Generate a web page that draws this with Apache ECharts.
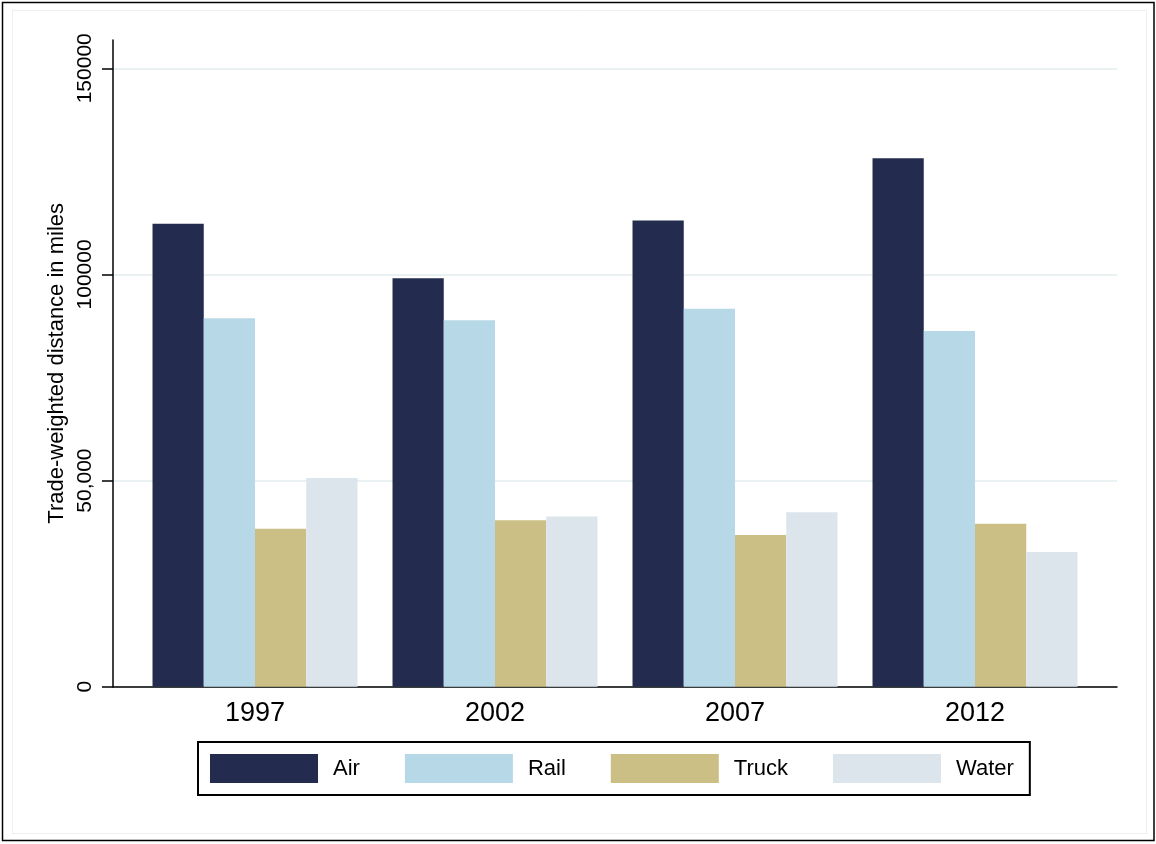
<!DOCTYPE html>
<html>
<head>
<meta charset="utf-8">
<script src="https://cdn.jsdelivr.net/npm/echarts@6/dist/echarts.min.js"></script>
<style>
html,body{margin:0;padding:0;background:#fff;}
#chart{width:1156px;height:844px;}
</style>
</head>
<body>
<div id="chart"></div>
<script>
const years = ['1997', '2002', '2007', '2012'];
const airValues = [112300, 99100, 113100, 128200];
const railValues = [89400, 88900, 91700, 86300];
const truckValues = [38300, 40400, 36800, 39500];
const waterValues = [50600, 41300, 42300, 32700];
const seriesNames = ['Air', 'Rail', 'Truck', 'Water'];
const yTickValues = [0, 50000, 100000, 150000];
const yTickLabels = ['0', '50,000', '100000', '150000'];
const yTitle = 'Trade-weighted distance in miles';

const colors = ['#232c4e', '#b7d8e7', '#cbbf85', '#dce5eb'];
const FONT = "'Liberation Sans', Arial, Helvetica, sans-serif";

const chart = echarts.init(document.getElementById('chart'), null, {renderer: 'canvas'});

const seriesData = [airValues, railValues, truckValues, waterValues];

const option = {
  animation: false,
  backgroundColor: '#ffffff',
  textStyle: {fontFamily: FONT},
  graphic: [
    {type: 'rect', shape: {x: 2.5, y: 2.5, width: 1151.5, height: 838}, style: {fill: 'none', stroke: '#000', lineWidth: 1.5}, silent: true},
    {type: 'rect', shape: {x: 12.5, y: 10.5, width: 1134, height: 823}, style: {fill: 'none', stroke: '#efefef', lineWidth: 1}, silent: true}
  ],
  grid: [
    {left: 113, right: 39, top: 40, bottom: 157.3},
    {left: 113, right: 39, top: 68.3, bottom: 157.3},
    {left: 135, right: 61, top: 68.3, bottom: 157.3}
  ],
  xAxis: [
    {gridIndex: 0, type: 'value', min: 0, max: 1, axisLine: {show: true, onZero: false, lineStyle: {color: '#000', width: 1.5}}, axisTick: {show: false}, axisLabel: {show: false}, splitLine: {show: false}},
    {gridIndex: 1, type: 'value', min: 0, max: 1, show: false},
    {gridIndex: 2, type: 'category', data: years, boundaryGap: true,
     axisLine: {show: false}, axisTick: {show: false},
     axisLabel: {color: '#000', fontSize: 27, fontFamily: FONT, margin: 13},
     splitLine: {show: false}}
  ],
  yAxis: [
    {gridIndex: 0, type: 'value', min: 0, max: 1,
     name: yTitle, nameLocation: 'middle', nameRotate: 90, nameGap: 45,
     nameTextStyle: {color: '#000', fontSize: 22, fontFamily: FONT},
     axisLine: {show: true, onZero: false, lineStyle: {color: '#000', width: 1.5}}, axisTick: {show: false}, axisLabel: {show: false}, splitLine: {show: false}},
    {gridIndex: 1, type: 'value', min: 0, max: 150000, interval: 50000,
     axisLine: {show: false},
     axisTick: {show: true, length: 11, lineStyle: {color: '#000', width: 1.5}},
     axisLabel: {color: '#000', fontSize: 21, fontFamily: FONT, rotate: 90, margin: 17,
       formatter: function (v) { const i = yTickValues.indexOf(v); return i >= 0 ? yTickLabels[i] : ''; }},
     splitLine: {show: true, lineStyle: {color: '#eaf1f2', width: 2}}},
    {gridIndex: 2, type: 'value', min: 0, max: 150000, show: false}
  ],
  legend: {
    data: seriesNames,
    left: 198, top: 742,
    orient: 'horizontal',
    icon: 'rect',
    itemWidth: 108, itemHeight: 29, itemGap: 45,
    padding: [12, 16, 12, 12],
    borderColor: '#000', borderWidth: 2, borderRadius: 0,
    textStyle: {color: '#000', fontSize: 22, fontFamily: FONT, padding: [4, 0, 0, 10]}
  },
  series: seriesNames.map(function (name, i) {
    return {
      name: name,
      type: 'bar',
      xAxisIndex: 2, yAxisIndex: 2,
      data: seriesData[i],
      barGap: '0%',
      barCategoryGap: '14.6%',
      itemStyle: {color: colors[i]},
      emphasis: {disabled: true}
    };
  })
};

chart.setOption(option);
</script>
</body>
</html>
